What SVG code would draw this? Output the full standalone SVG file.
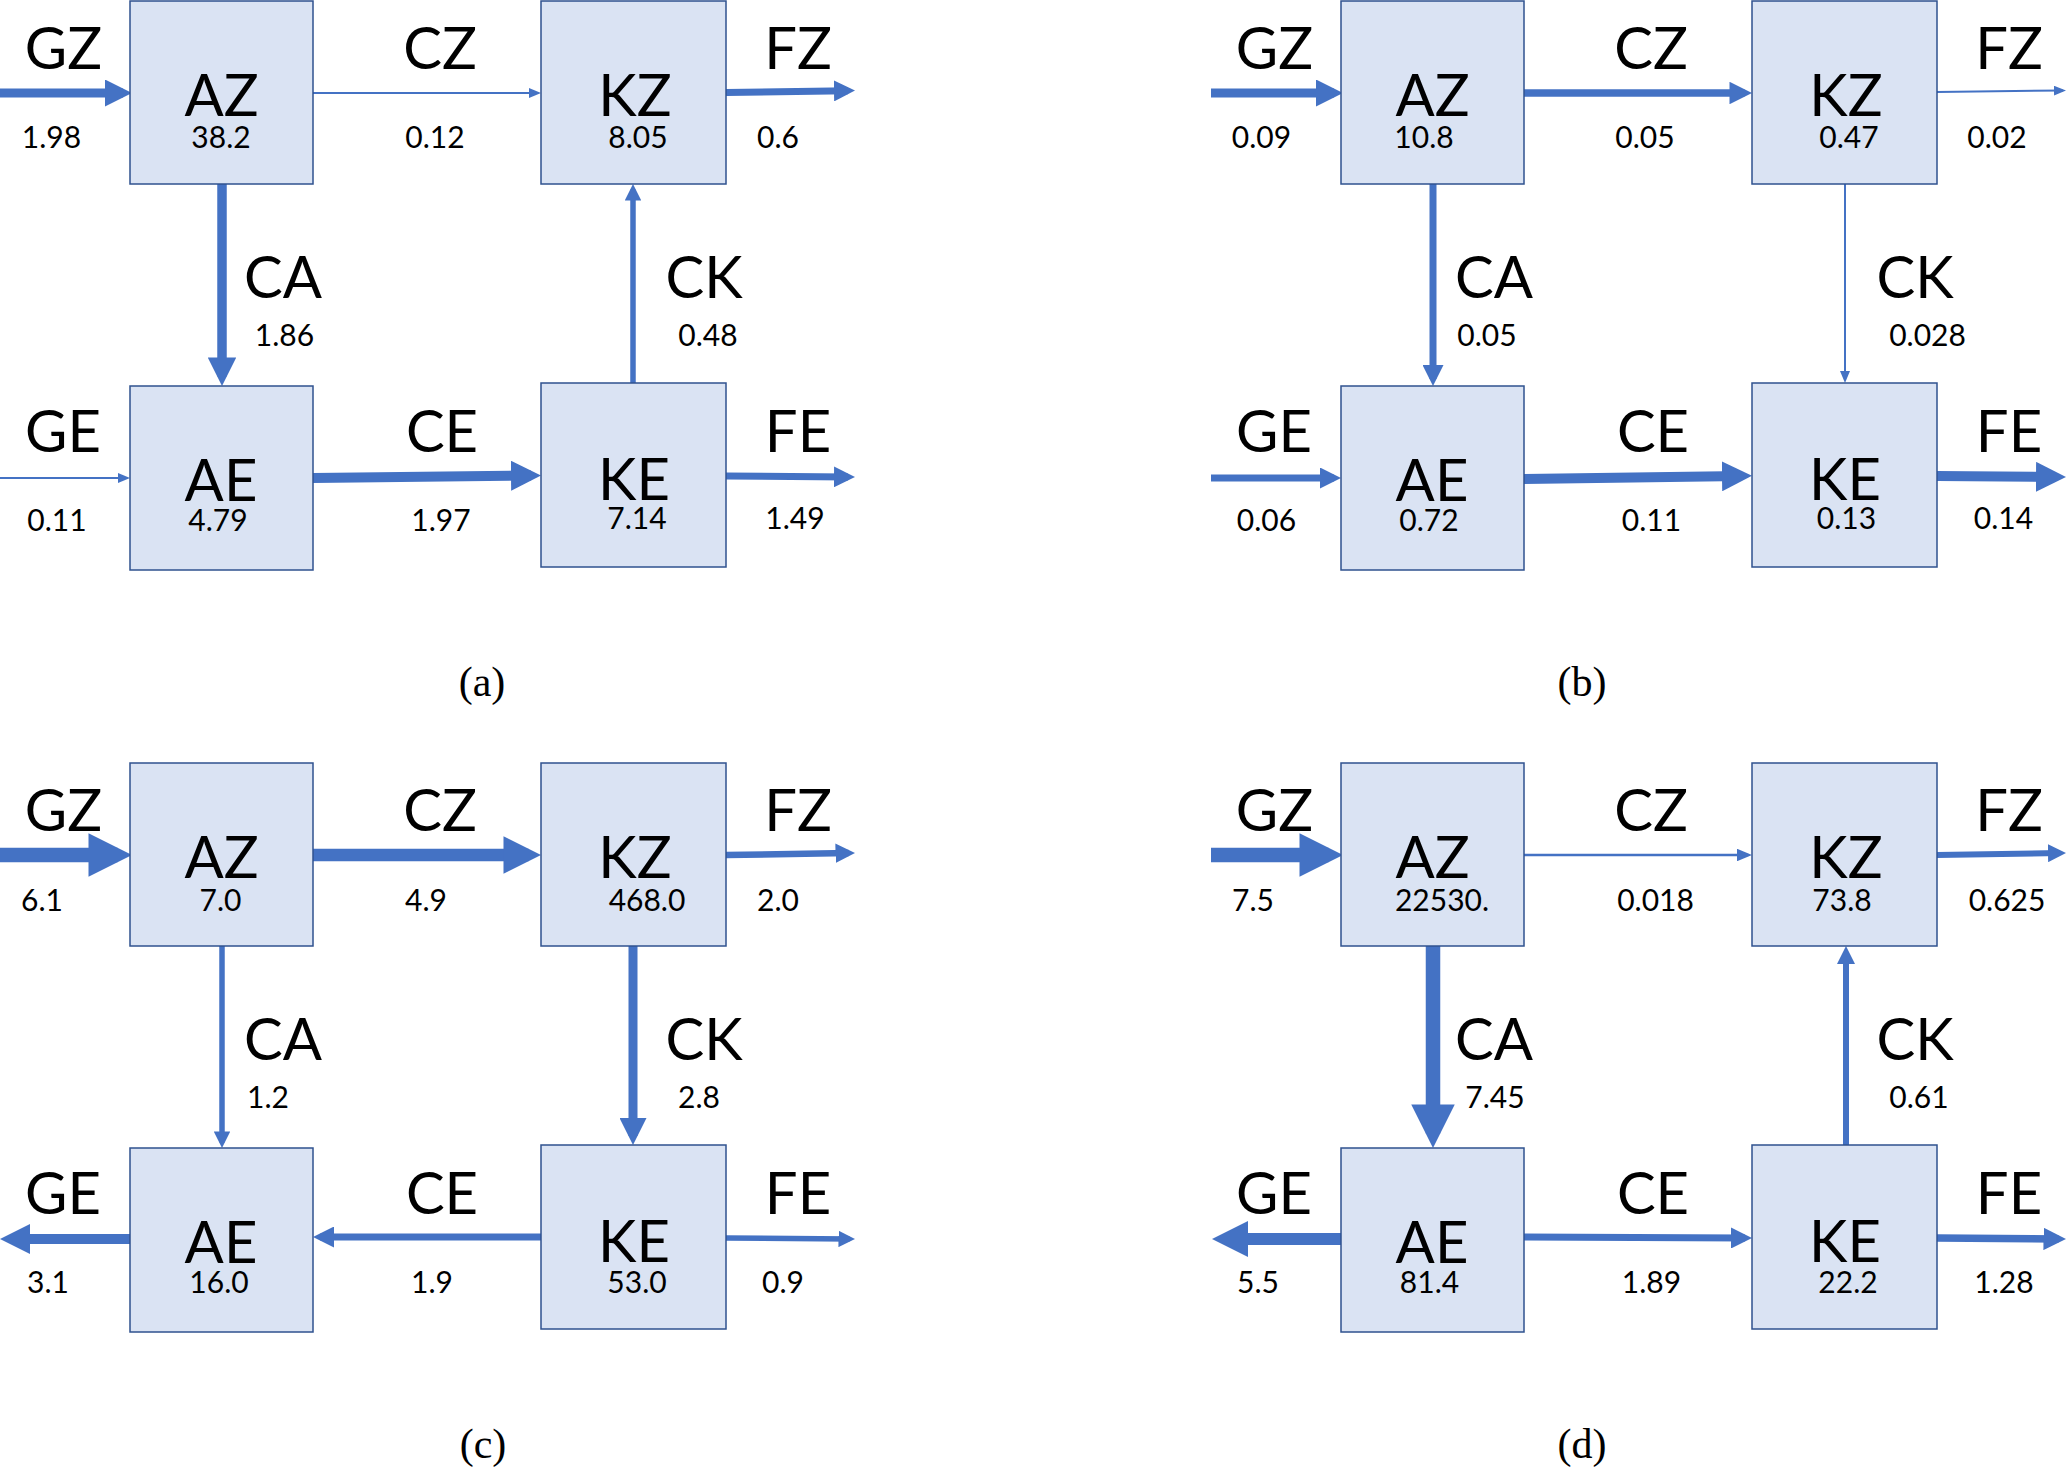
<svg xmlns="http://www.w3.org/2000/svg" width="2067" height="1467" viewBox="0 0 2067 1467">
<style>
.box{fill:#DAE3F3;stroke:#2F528F;stroke-width:1.5}
.ar{stroke:#4472C4;fill:none;stroke-linecap:butt}
.tk{marker-end:url(#h)}
.tn{marker-end:url(#t)}
text{font-family:Lato,"Open Sans","Liberation Sans",sans-serif;fill:#000;text-anchor:middle}
.L{font-size:58px}
.V{font-size:30px}
.cap{font-family:"Liberation Serif",serif;font-size:42px}
</style>
<defs>
<marker id="h" viewBox="0 0 10 10" refX="6.67" refY="5" markerWidth="3" markerHeight="3" orient="auto" markerUnits="strokeWidth"><path d="M0,0L10,5L0,10z" fill="#4472C4"/></marker>
<marker id="t" viewBox="0 0 12 10" refX="9" refY="5" markerWidth="6" markerHeight="5" orient="auto" markerUnits="strokeWidth"><path d="M0,0L12,5L0,10z" fill="#4472C4"/></marker>
</defs>
<rect width="2067" height="1467" fill="#fff"/>

<g id="connectors">
 <g id="conn-a">
  <line class="ar tk" x1="0" y1="93" x2="123" y2="93" stroke-width="9"/>
  <line class="ar tn" x1="313" y1="93" x2="538" y2="93" stroke-width="2"/>
  <line class="ar tk" x1="726" y1="92.5" x2="848" y2="90.7" stroke-width="7"/>
  <line class="ar tk" x1="222" y1="184" x2="222" y2="376.5" stroke-width="9.5"/>
  <line class="ar tk" x1="633" y1="383" x2="633" y2="189.5" stroke-width="5.5"/>
  <line class="ar tn" x1="0" y1="478" x2="127" y2="478" stroke-width="2"/>
  <line class="ar tk" x1="313" y1="478" x2="531" y2="475.5" stroke-width="10"/>
  <line class="ar tk" x1="726" y1="476" x2="848" y2="477" stroke-width="7"/>
 </g>
 <g id="conn-b" transform="translate(1211,0)">
  <line class="ar tk" x1="0" y1="93" x2="123" y2="93" stroke-width="9"/>
  <line class="ar tk" x1="313" y1="93" x2="533.5" y2="93" stroke-width="7.5"/>
  <line class="ar tn" x1="726" y1="92" x2="852" y2="90.5" stroke-width="2"/>
  <line class="ar tk" x1="222" y1="184" x2="222" y2="379" stroke-width="7"/>
  <line class="ar tn" x1="634" y1="184" x2="634" y2="380" stroke-width="2"/>
  <line class="ar tk" x1="0" y1="478" x2="123" y2="478" stroke-width="7"/>
  <line class="ar tk" x1="313" y1="479" x2="531" y2="476" stroke-width="10"/>
  <line class="ar tk" x1="726" y1="476" x2="845" y2="477" stroke-width="10"/>
 </g>
 <g id="conn-c" transform="translate(0,762)">
  <line class="ar tk" x1="0" y1="93" x2="117.5" y2="93" stroke-width="14.5"/>
  <line class="ar tk" x1="313" y1="93" x2="528.5" y2="93" stroke-width="12.5"/>
  <line class="ar tk" x1="726" y1="93" x2="848.5" y2="91" stroke-width="6.5"/>
  <line class="ar tk" x1="222" y1="184" x2="222" y2="380.5" stroke-width="5.5"/>
  <line class="ar tk" x1="633" y1="184" x2="633" y2="374" stroke-width="9"/>
  <line class="ar tk" x1="130" y1="477" x2="10" y2="477" stroke-width="10"/>
  <line class="ar tk" x1="541" y1="475" x2="320" y2="475" stroke-width="7"/>
  <line class="ar tk" x1="726" y1="476" x2="849.5" y2="477" stroke-width="5.5"/>
 </g>
 <g id="conn-d" transform="translate(1211,762)">
  <line class="ar tk" x1="0" y1="93" x2="117.5" y2="93" stroke-width="14.5"/>
  <line class="ar tn" x1="313" y1="93" x2="537.25" y2="93" stroke-width="2.5"/>
  <line class="ar tk" x1="726" y1="93" x2="849" y2="91" stroke-width="6"/>
  <line class="ar tk" x1="222" y1="184" x2="222" y2="371.5" stroke-width="14.5"/>
  <line class="ar tk" x1="635" y1="383" x2="635" y2="190" stroke-width="6"/>
  <line class="ar tk" x1="130" y1="477" x2="13" y2="477" stroke-width="12"/>
  <line class="ar tk" x1="313" y1="475" x2="534" y2="476" stroke-width="7"/>
  <line class="ar tk" x1="726" y1="476" x2="847.5" y2="477" stroke-width="7.5"/>
 </g>
</g>

<g id="panel-a">
 <g id="a-AZ"><rect class="box" x="130" y="1" width="183" height="183"/><text class="L" x="221.5" y="116">AZ</text><text class="V" x="221" y="148">38.2</text></g>
 <g id="a-KZ"><rect class="box" x="541" y="1" width="185" height="183"/><text class="L" x="635" y="116">KZ</text><text class="V" x="638" y="148">8.05</text></g>
 <g id="a-AE"><rect class="box" x="130" y="386" width="183" height="184"/><text class="L" x="221" y="501">AE</text><text class="V" x="218" y="531">4.79</text></g>
 <g id="a-KE"><rect class="box" x="541" y="383" width="185" height="184"/><text class="L" x="634" y="500">KE</text><text class="V" x="637" y="529">7.14</text></g>
 <g id="a-labels">
  <text class="L" x="63.5" y="69">GZ</text><text class="V" x="51.5" y="148">1.98</text>
  <text class="L" x="440" y="69">CZ</text><text class="V" x="435" y="148">0.12</text>
  <text class="L" x="798" y="69">FZ</text><text class="V" x="778" y="148">0.6</text>
  <text class="L" x="283" y="298">CA</text><text class="V" x="284.5" y="346">1.86</text>
  <text class="L" x="704" y="298">CK</text><text class="V" x="708" y="346">0.48</text>
  <text class="L" x="63" y="452">GE</text><text class="V" x="57" y="531">0.11</text>
  <text class="L" x="442" y="452">CE</text><text class="V" x="441" y="531">1.97</text>
  <text class="L" x="798" y="452">FE</text><text class="V" x="795" y="529">1.49</text>
 </g>
</g>

<g id="panel-b" transform="translate(1211,0)">
 <g id="b-AZ"><rect class="box" x="130" y="1" width="183" height="183"/><text class="L" x="221.5" y="116">AZ</text><text class="V" x="213" y="148">10.8</text></g>
 <g id="b-KZ"><rect class="box" x="541" y="1" width="185" height="183"/><text class="L" x="635" y="116">KZ</text><text class="V" x="638" y="148">0.47</text></g>
 <g id="b-AE"><rect class="box" x="130" y="386" width="183" height="184"/><text class="L" x="221" y="501">AE</text><text class="V" x="218" y="531">0.72</text></g>
 <g id="b-KE"><rect class="box" x="541" y="383" width="185" height="184"/><text class="L" x="634" y="500">KE</text><text class="V" x="635.5" y="529">0.13</text></g>
 <g id="b-labels">
  <text class="L" x="63.5" y="69">GZ</text><text class="V" x="50.5" y="148">0.09</text>
  <text class="L" x="440" y="69">CZ</text><text class="V" x="434" y="148">0.05</text>
  <text class="L" x="798" y="69">FZ</text><text class="V" x="786" y="148">0.02</text>
  <text class="L" x="283" y="298">CA</text><text class="V" x="276" y="346">0.05</text>
  <text class="L" x="704" y="298">CK</text><text class="V" x="716.5" y="346">0.028</text>
  <text class="L" x="63" y="452">GE</text><text class="V" x="55.5" y="531">0.06</text>
  <text class="L" x="442" y="452">CE</text><text class="V" x="440.5" y="531">0.11</text>
  <text class="L" x="798" y="452">FE</text><text class="V" x="792.5" y="529">0.14</text>
 </g>
</g>

<g id="panel-c" transform="translate(0,762)">
 <g id="c-AZ"><rect class="box" x="130" y="1" width="183" height="183"/><text class="L" x="221.5" y="116">AZ</text><text class="V" x="220.5" y="149">7.0</text></g>
 <g id="c-KZ"><rect class="box" x="541" y="1" width="185" height="183"/><text class="L" x="635" y="116">KZ</text><text class="V" x="647" y="149">468.0</text></g>
 <g id="c-AE"><rect class="box" x="130" y="386" width="183" height="184"/><text class="L" x="221" y="501">AE</text><text class="V" x="219" y="531">16.0</text></g>
 <g id="c-KE"><rect class="box" x="541" y="383" width="185" height="184"/><text class="L" x="634" y="500">KE</text><text class="V" x="637" y="531">53.0</text></g>
 <g id="c-labels">
  <text class="L" x="63.5" y="69">GZ</text><text class="V" x="42" y="149">6.1</text>
  <text class="L" x="440" y="69">CZ</text><text class="V" x="426" y="149">4.9</text>
  <text class="L" x="798" y="69">FZ</text><text class="V" x="778" y="149">2.0</text>
  <text class="L" x="283" y="298">CA</text><text class="V" x="268" y="346">1.2</text>
  <text class="L" x="704" y="298">CK</text><text class="V" x="699" y="346">2.8</text>
  <text class="L" x="63" y="452">GE</text><text class="V" x="48" y="531">3.1</text>
  <text class="L" x="442" y="452">CE</text><text class="V" x="432" y="531">1.9</text>
  <text class="L" x="798" y="452">FE</text><text class="V" x="783" y="531">0.9</text>
 </g>
</g>

<g id="panel-d" transform="translate(1211,762)">
 <g id="d-AZ"><rect class="box" x="130" y="1" width="183" height="183"/><text class="L" x="221.5" y="116">AZ</text><text class="V" x="231" y="149">22530.</text></g>
 <g id="d-KZ"><rect class="box" x="541" y="1" width="185" height="183"/><text class="L" x="635" y="116">KZ</text><text class="V" x="631" y="149">73.8</text></g>
 <g id="d-AE"><rect class="box" x="130" y="386" width="183" height="184"/><text class="L" x="221" y="501">AE</text><text class="V" x="218.5" y="531">81.4</text></g>
 <g id="d-KE"><rect class="box" x="541" y="383" width="185" height="184"/><text class="L" x="634" y="500">KE</text><text class="V" x="637" y="531">22.2</text></g>
 <g id="d-labels">
  <text class="L" x="63.5" y="69">GZ</text><text class="V" x="42" y="149">7.5</text>
  <text class="L" x="440" y="69">CZ</text><text class="V" x="444.5" y="149">0.018</text>
  <text class="L" x="798" y="69">FZ</text><text class="V" x="796" y="149">0.625</text>
  <text class="L" x="283" y="298">CA</text><text class="V" x="284" y="346">7.45</text>
  <text class="L" x="704" y="298">CK</text><text class="V" x="708" y="346">0.61</text>
  <text class="L" x="63" y="452">GE</text><text class="V" x="47" y="531">5.5</text>
  <text class="L" x="442" y="452">CE</text><text class="V" x="440.5" y="531">1.89</text>
  <text class="L" x="798" y="452">FE</text><text class="V" x="793" y="531">1.28</text>
 </g>
</g>

<g id="captions">
 <text class="cap" x="482" y="696">(a)</text>
 <text class="cap" x="1582" y="696">(b)</text>
 <text class="cap" x="483" y="1458">(c)</text>
 <text class="cap" x="1582" y="1458">(d)</text>
</g>
</svg>
